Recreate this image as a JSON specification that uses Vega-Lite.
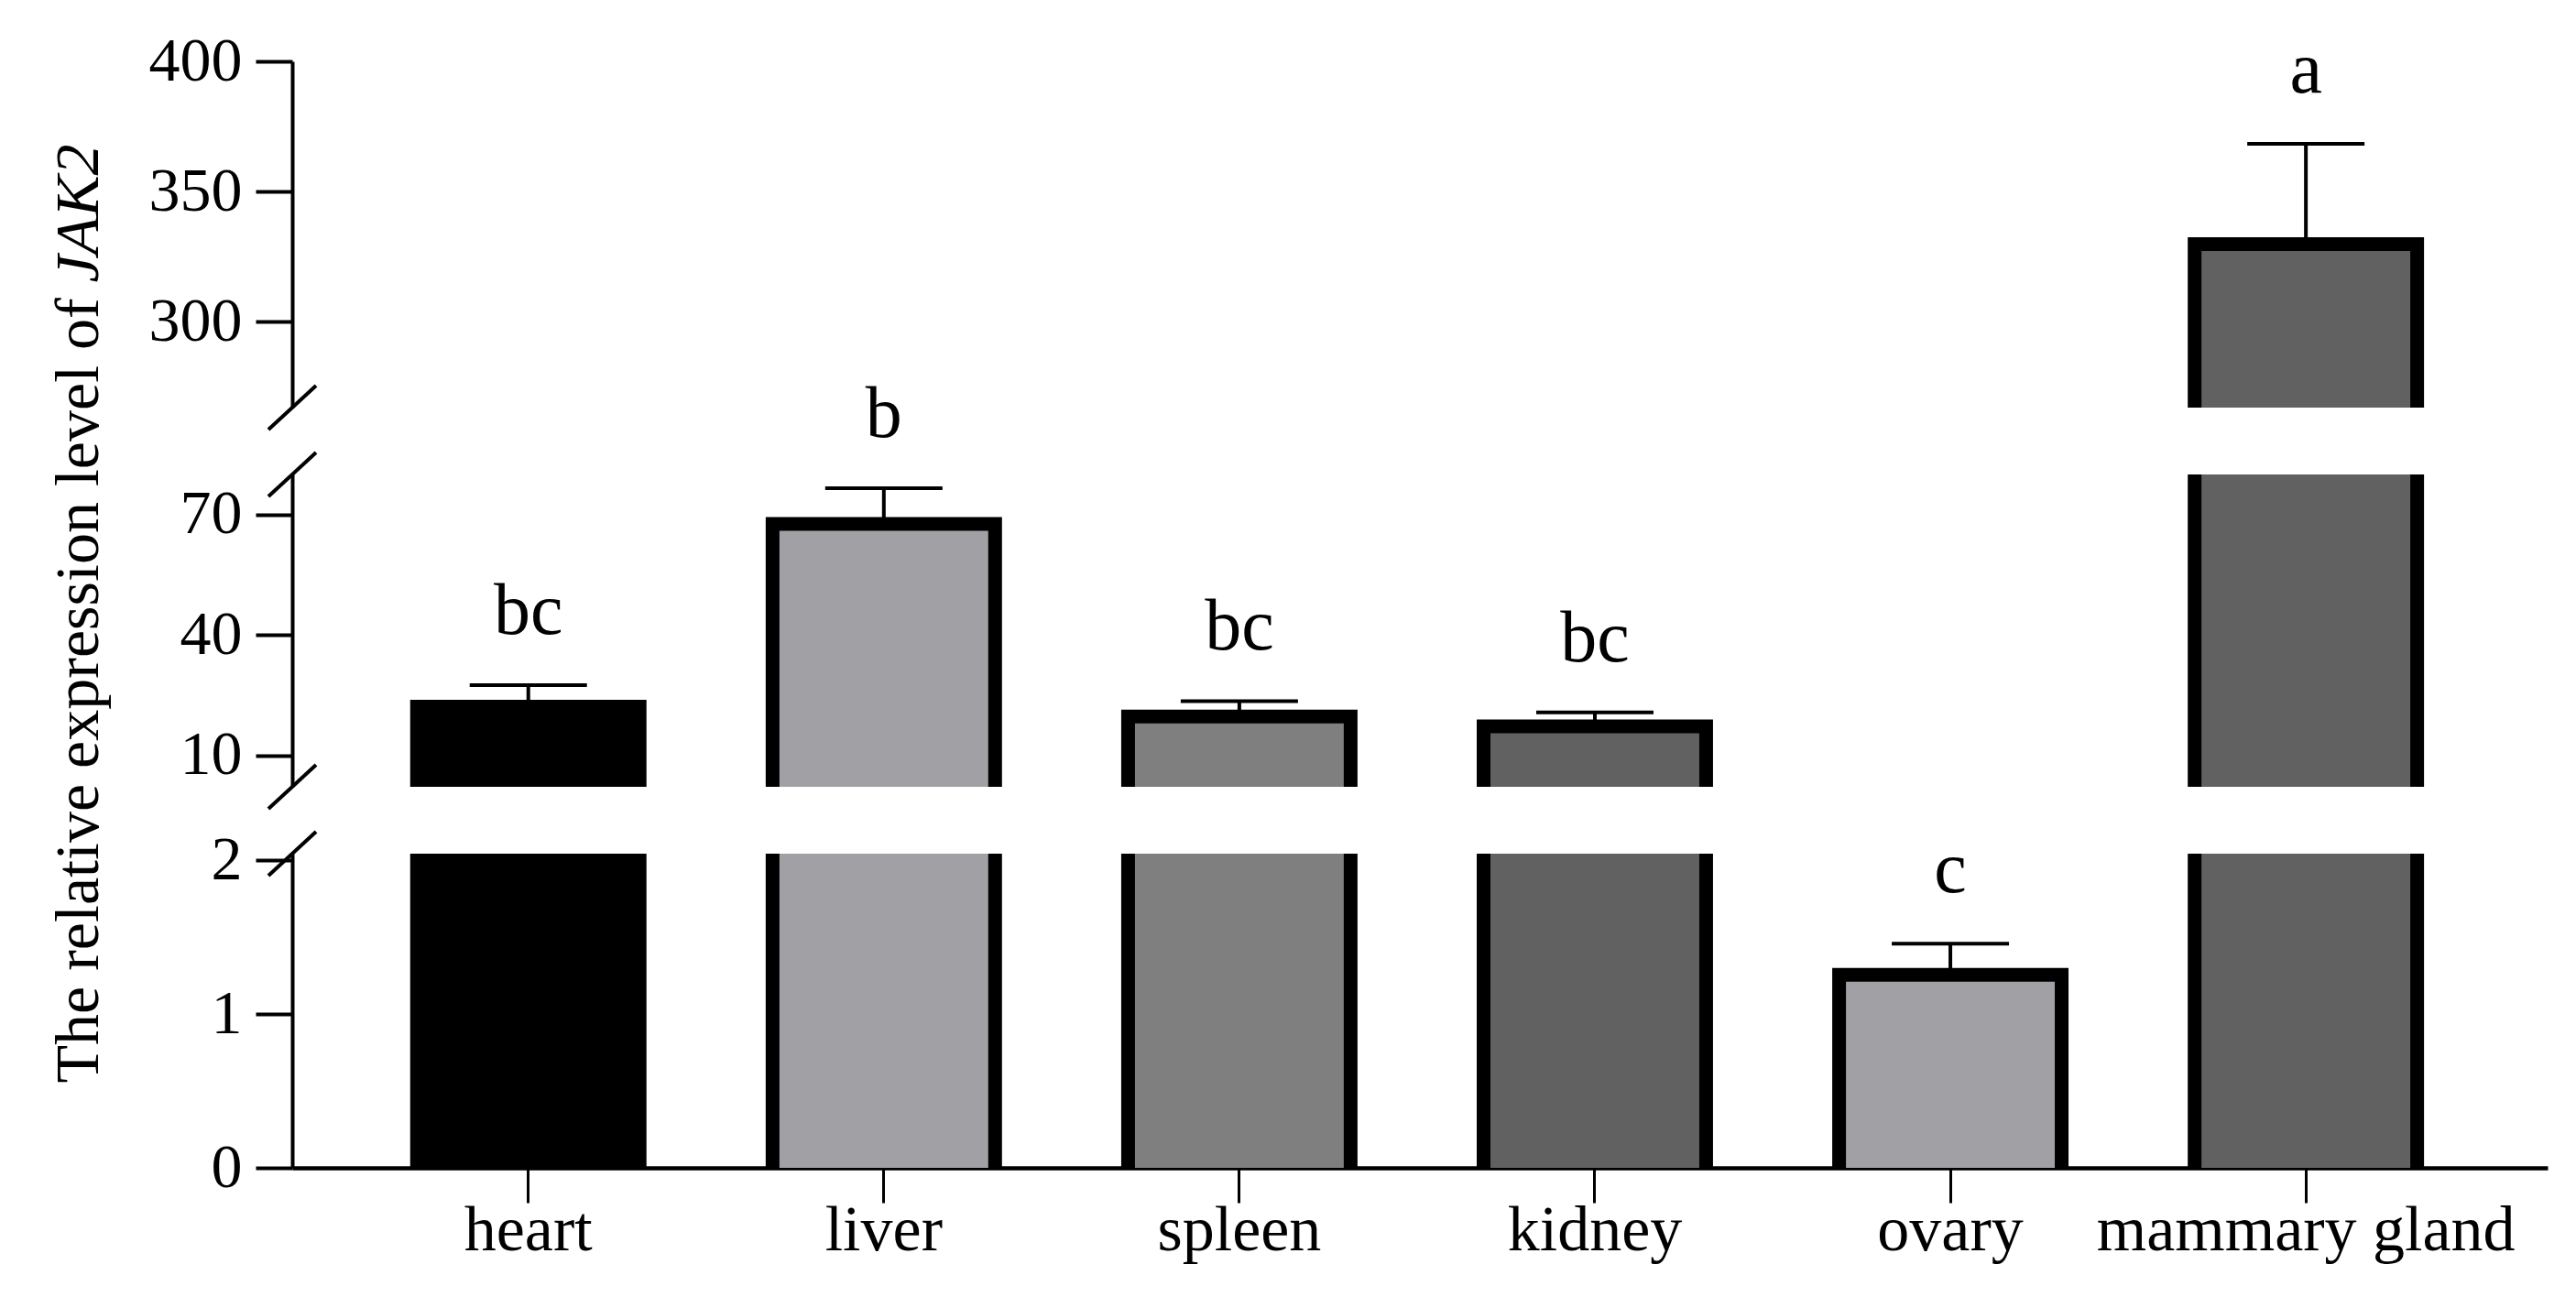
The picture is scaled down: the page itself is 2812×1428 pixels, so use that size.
{
  "$schema": "https://vega.github.io/schema/vega-lite/v6.json",
  "background": "white",
  "padding": {"left": 51, "top": 33, "right": 10, "bottom": 5},
  "datasets": {
    "expr": [
      {"tissue": "heart", "mean": 22.1, "err": 27.5, "label": "bc", "seg": "mid"},
      {"tissue": "liver", "mean": 67.7, "err": 76.6, "label": "b", "seg": "mid"},
      {"tissue": "spleen", "mean": 19.7, "err": 23.5, "label": "bc", "seg": "mid"},
      {"tissue": "kidney", "mean": 17.2, "err": 20.7, "label": "bc", "seg": "mid"},
      {"tissue": "ovary", "mean": 1.256, "err": 1.458, "label": "c", "seg": "low"},
      {"tissue": "mammary gland", "mean": 329.9, "err": 368.4, "label": "a", "seg": "top"}
    ],
    "breaks": [
      {"seg": "top", "bv": 267.1, "bx": 0},
      {"seg": "mid", "bv": 80, "bx": 0},
      {"seg": "mid", "bv": 2.15, "bx": 0},
      {"seg": "low", "bv": 2.043, "bx": 0}
    ]
  },
  "vconcat": [
    {
      "width": 2462,
      "height": 378,
      "layer": [
        {
          "layer": [
            {
              "data": {"name": "expr"},
              "transform": [{"filter": "datum.mean > 267.1"}],
              "mark": {"type": "bar", "clip": true, "stroke": "black", "strokeWidth": 15},
              "encoding": {
                "x": {"field": "tissue", "type": "nominal", "sort": ["heart", "liver", "spleen", "kidney", "ovary", "mammary gland"],
                      "scale": {"domain": ["heart", "liver", "spleen", "kidney", "ovary", "mammary gland"], "paddingInner": 0.374, "paddingOuter": 0.359, "align": 0.489},
                      "axis": null},
                "y": {"field": "mean", "type": "quantitative",
                      "scale": {"domain": [267.1, 400], "zero": false, "nice": false},
                      "axis": {"values": [300, 350, 400], "format": ".0f", "title": "JAK2", "titleFontStyle": "italic", "titleAngle": 270, "titleAlign": "left", "titleBaseline": "alphabetic", "titleX": -213, "titleY": 241}},
                "y2": {"datum": -0.1},
                "color": {"field": "tissue", "type": "nominal",
                          "scale": {"domain": ["heart", "liver", "spleen", "kidney", "ovary", "mammary gland"], "range": ["#000000", "#a1a0a5", "#7f7f7f", "#616161", "#a1a0a5", "#616161"]},
                          "legend": null}
              }
            },
            {
              "data": {"name": "expr"},
              "transform": [{"filter": "datum.seg === 'top'"}],
              "mark": {"type": "rule", "color": "black", "strokeWidth": 4},
              "encoding": {
                "x": {"field": "tissue", "type": "nominal"},
                "y": {"field": "mean", "type": "quantitative"},
                "y2": {"field": "err"}
              }
            },
            {
              "data": {"name": "expr"},
              "transform": [{"filter": "datum.seg === 'top'"}],
              "mark": {"type": "tick", "color": "black", "size": 128, "thickness": 4, "opacity": 1, "orient": "horizontal"},
              "encoding": {
                "x": {"field": "tissue", "type": "nominal"},
                "y": {"field": "err", "type": "quantitative"}
              }
            },
            {
              "data": {"name": "expr"},
              "transform": [{"filter": "datum.seg === 'top'"}],
              "mark": {"type": "text", "font": "Liberation Serif", "fontSize": 80, "dy": -56, "baseline": "alphabetic", "color": "black"},
              "encoding": {
                "x": {"field": "tissue", "type": "nominal"},
                "y": {"field": "err", "type": "quantitative"},
                "text": {"field": "label"}
              }
            }
          ]
        },
        {
          "data": {"name": "breaks"},
          "transform": [{"filter": "datum.seg === 'top'"}],
          "mark": {"type": "point", "shape": "M-1,0.92L1,-0.92", "size": 2704, "filled": false, "color": "black", "strokeWidth": 4, "opacity": 1},
          "encoding": {
            "x": {"field": "bx", "type": "quantitative", "scale": {"domain": [0, 1]}, "axis": null},
            "y": {"field": "bv", "type": "quantitative"}
          }
        }
      ],
      "resolve": {"scale": {"x": "independent"}}
    },
    {
      "width": 2462,
      "height": 341,
      "layer": [
        {
          "layer": [
            {
              "data": {"name": "expr"},
              "transform": [{"filter": "datum.mean > 2.15"}],
              "mark": {"type": "bar", "clip": true, "stroke": "black", "strokeWidth": 15},
              "encoding": {
                "x": {"field": "tissue", "type": "nominal", "sort": ["heart", "liver", "spleen", "kidney", "ovary", "mammary gland"],
                      "scale": {"domain": ["heart", "liver", "spleen", "kidney", "ovary", "mammary gland"], "paddingInner": 0.374, "paddingOuter": 0.359, "align": 0.489},
                      "axis": null},
                "y": {"field": "mean", "type": "quantitative",
                      "scale": {"domain": [2.15, 80], "zero": false, "nice": false},
                      "axis": {"values": [10, 40, 70], "format": ".0f", "title": "The relative expression level of", "titleAngle": 270, "titleAlign": "left", "titleBaseline": "alphabetic", "titleX": -213, "titleY": 664}},
                "y2": {"datum": -0.1},
                "color": {"field": "tissue", "type": "nominal",
                          "scale": {"domain": ["heart", "liver", "spleen", "kidney", "ovary", "mammary gland"], "range": ["#000000", "#a1a0a5", "#7f7f7f", "#616161", "#a1a0a5", "#616161"]},
                          "legend": null}
              }
            },
            {
              "data": {"name": "expr"},
              "transform": [{"filter": "datum.seg === 'mid'"}],
              "mark": {"type": "rule", "color": "black", "strokeWidth": 4},
              "encoding": {
                "x": {"field": "tissue", "type": "nominal"},
                "y": {"field": "mean", "type": "quantitative"},
                "y2": {"field": "err"}
              }
            },
            {
              "data": {"name": "expr"},
              "transform": [{"filter": "datum.seg === 'mid'"}],
              "mark": {"type": "tick", "color": "black", "size": 128, "thickness": 4, "opacity": 1, "orient": "horizontal"},
              "encoding": {
                "x": {"field": "tissue", "type": "nominal"},
                "y": {"field": "err", "type": "quantitative"}
              }
            },
            {
              "data": {"name": "expr"},
              "transform": [{"filter": "datum.seg === 'mid'"}],
              "mark": {"type": "text", "font": "Liberation Serif", "fontSize": 80, "dy": -56, "baseline": "alphabetic", "color": "black"},
              "encoding": {
                "x": {"field": "tissue", "type": "nominal"},
                "y": {"field": "err", "type": "quantitative"},
                "text": {"field": "label"}
              }
            }
          ]
        },
        {
          "data": {"name": "breaks"},
          "transform": [{"filter": "datum.seg === 'mid'"}],
          "mark": {"type": "point", "shape": "M-1,0.92L1,-0.92", "size": 2704, "filled": false, "color": "black", "strokeWidth": 4, "opacity": 1},
          "encoding": {
            "x": {"field": "bx", "type": "quantitative", "scale": {"domain": [0, 1]}, "axis": null},
            "y": {"field": "bv", "type": "quantitative"}
          }
        }
      ],
      "resolve": {"scale": {"x": "independent"}}
    },
    {
      "width": 2462,
      "height": 343,
      "layer": [
        {
          "layer": [
            {
              "data": {"name": "expr"},
              "mark": {"type": "bar", "clip": true, "stroke": "black", "strokeWidth": 15},
              "encoding": {
                "x": {"field": "tissue", "type": "nominal", "sort": ["heart", "liver", "spleen", "kidney", "ovary", "mammary gland"],
                      "scale": {"domain": ["heart", "liver", "spleen", "kidney", "ovary", "mammary gland"], "paddingInner": 0.374, "paddingOuter": 0.359, "align": 0.489},
                      "axis": {"title": null, "labelAngle": 0, "labelFontSize": 70, "labelPadding": -4, "labelLimit": 0, "tickSize": 38, "tickWidth": 3, "domainWidth": 4.5, "labelFlush": false}},
                "y": {"field": "mean", "type": "quantitative",
                      "scale": {"domain": [0, 2.043], "zero": false, "nice": false},
                      "axis": {"values": [0, 1, 2], "format": ".0f", "title": null}},
                "y2": {"datum": -0.1},
                "color": {"field": "tissue", "type": "nominal",
                          "scale": {"domain": ["heart", "liver", "spleen", "kidney", "ovary", "mammary gland"], "range": ["#000000", "#a1a0a5", "#7f7f7f", "#616161", "#a1a0a5", "#616161"]},
                          "legend": null}
              }
            },
            {
              "data": {"name": "expr"},
              "transform": [{"filter": "datum.seg === 'low'"}],
              "mark": {"type": "rule", "color": "black", "strokeWidth": 4},
              "encoding": {
                "x": {"field": "tissue", "type": "nominal"},
                "y": {"field": "mean", "type": "quantitative"},
                "y2": {"field": "err"}
              }
            },
            {
              "data": {"name": "expr"},
              "transform": [{"filter": "datum.seg === 'low'"}],
              "mark": {"type": "tick", "color": "black", "size": 128, "thickness": 4, "opacity": 1, "orient": "horizontal"},
              "encoding": {
                "x": {"field": "tissue", "type": "nominal"},
                "y": {"field": "err", "type": "quantitative"}
              }
            },
            {
              "data": {"name": "expr"},
              "transform": [{"filter": "datum.seg === 'low'"}],
              "mark": {"type": "text", "font": "Liberation Serif", "fontSize": 80, "dy": -56, "baseline": "alphabetic", "color": "black"},
              "encoding": {
                "x": {"field": "tissue", "type": "nominal"},
                "y": {"field": "err", "type": "quantitative"},
                "text": {"field": "label"}
              }
            }
          ]
        },
        {
          "data": {"name": "breaks"},
          "transform": [{"filter": "datum.seg === 'low'"}],
          "mark": {"type": "point", "shape": "M-1,0.92L1,-0.92", "size": 2704, "filled": false, "color": "black", "strokeWidth": 4, "opacity": 1},
          "encoding": {
            "x": {"field": "bx", "type": "quantitative", "scale": {"domain": [0, 1]}, "axis": null},
            "y": {"field": "bv", "type": "quantitative"}
          }
        }
      ],
      "resolve": {"scale": {"x": "independent"}}
    }
  ],
  "spacing": 73,
  "bounds": "flush",
  "config": {
    "view": {"stroke": null},
    "font": "Liberation Serif",
    "axis": {
      "grid": false,
      "domainColor": "black",
      "domainWidth": 4,
      "tickColor": "black",
      "tickWidth": 4,
      "tickSize": 40,
      "labelFont": "Liberation Serif",
      "labelFontSize": 68,
      "labelColor": "black",
      "labelPadding": 15,
      "labelFlush": false,
      "labelOverlap": false,
      "titleFont": "Liberation Serif",
      "titleFontWeight": "normal",
      "titleFontSize": 68,
      "titleColor": "black"
    }
  }
}
